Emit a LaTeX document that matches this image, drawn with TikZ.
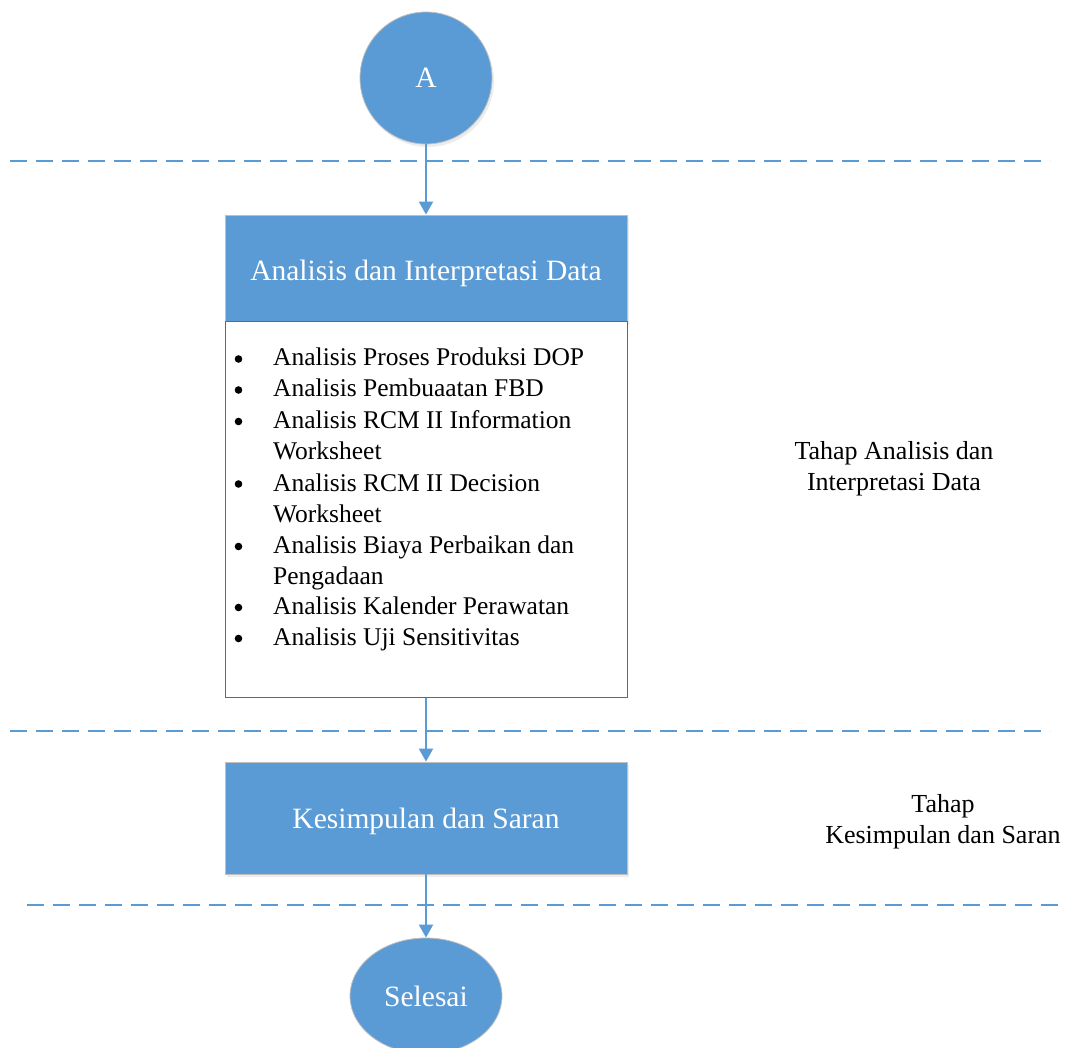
\documentclass[tikz,border=0pt]{standalone}
\usepackage{fontspec}
\setmainfont{Liberation Serif}
\usetikzlibrary{arrows.meta,shapes.geometric,shadows}
\definecolor{fblue}{HTML}{5B9BD5}
\definecolor{dblue}{HTML}{41719C}
\definecolor{edgegray}{HTML}{BFBFBF}
\begin{document}
\begin{tikzpicture}[x=1pt,y=-1pt,
  bluebox/.style={draw=edgegray, line width=0.8pt, fill=fblue, text=white, minimum width=402pt, inner sep=0pt,
     font=\fontsize{29.5}{34}\selectfont, drop shadow={opacity=0.15, shadow xshift=2pt, shadow yshift=-3pt}},
  bodybox/.style={draw=dblue, line width=1pt, fill=white, minimum width=402pt, inner sep=0pt},
  item/.style={anchor=base west, inner sep=0pt, font=\fontsize{25.5}{30}\selectfont},
  bul/.style={fill=black, draw=none},
  sidelabel/.style={align=center, inner sep=0pt, font=\fontsize{26}{31}\selectfont},
  sep/.style={fblue, line width=2.6pt, dash pattern=on 17pt off 9pt},
  flow/.style={fblue, line width=2pt, -{Triangle[width=14pt,length=13pt]}}
]
\useasboundingbox (0,0) rectangle (1066,1048);
\clip (0,0) rectangle (1066,1048);

% separators
\coordinate (s1a) at (10,161); \coordinate (s1b) at (1050,161);
\coordinate (s2a) at (10,731); \coordinate (s2b) at (1050,731);
\coordinate (s3a) at (27,905); \coordinate (s3b) at (1062,905);
\draw[sep] (s1a) -- (s1b);
\draw[sep] (s2a) -- (s2b);
\draw[sep] (s3a) -- (s3b);

% start circle
\node[circle, draw=edgegray, line width=0.8pt, fill=fblue, text=white, minimum size=132pt, inner sep=0pt,
      font=\fontsize{29.5}{34}\selectfont, drop shadow={opacity=0.15, shadow xshift=2pt, shadow yshift=-3pt}] (A) at (426,78) {A};

% header box and body
\node[bluebox, minimum height=107pt] (H) at (426,268.5) {\raisebox{-4.5pt}[\height][\depth]{Analisis dan Interpretasi Data}};
\node[bodybox, minimum height=375pt] (B) at (426,509.5) {};

% items
\fill[bul] (238.5,359) circle (3.8);
\node[item] (l1) at (273,366) {Analisis Proses Produksi DOP};
\fill[bul] (238.5,390) circle (3.8);
\node[item] (l2) at (273,397) {Analisis Pembuaatan FBD};
\fill[bul] (238.5,421.5) circle (3.8);
\node[item] (l3) at (273,428.5) {Analisis RCM II Information};
\node[item] (l4) at (273,459.5) {Worksheet};
\fill[bul] (238.5,484) circle (3.8);
\node[item] (l5) at (273,491) {Analisis RCM II Decision};
\node[item] (l6) at (273,522) {Worksheet};
\fill[bul] (238.5,546.5) circle (3.8);
\node[item] (l7) at (273,553.5) {Analisis Biaya Perbaikan dan};
\node[item] (l8) at (273,584.5) {Pengadaan};
\fill[bul] (238.5,607.5) circle (3.8);
\node[item] (l9) at (273,614.5) {Analisis Kalender Perawatan};
\fill[bul] (238.5,638.5) circle (3.8);
\node[item] (l10) at (273,645.5) {Analisis Uji Sensitivitas};

% conclusion box
\node[bluebox, minimum height=112pt] (K) at (426,818) {\raisebox{-3pt}[\height][\depth]{Kesimpulan dan Saran}};

% end ellipse
\node[ellipse, draw=edgegray, line width=0.8pt, fill=fblue, text=white, minimum width=152pt, minimum height=116pt, inner sep=0pt,
      font=\fontsize{29.5}{34}\selectfont] (E) at (426,996) {Selesai};

% side labels
\node[sidelabel] (t1) at (894,469) {Tahap Analisis dan\\Interpretasi Data};
\node[sidelabel] (t2) at (943,822) {Tahap\\Kesimpulan dan Saran};

% connectors
\draw[flow] (A.south) -- (H.north);
\draw[flow] (B.south) -- (K.north);
\draw[flow] (K.south) -- (E.north);
\end{tikzpicture}
\end{document}
